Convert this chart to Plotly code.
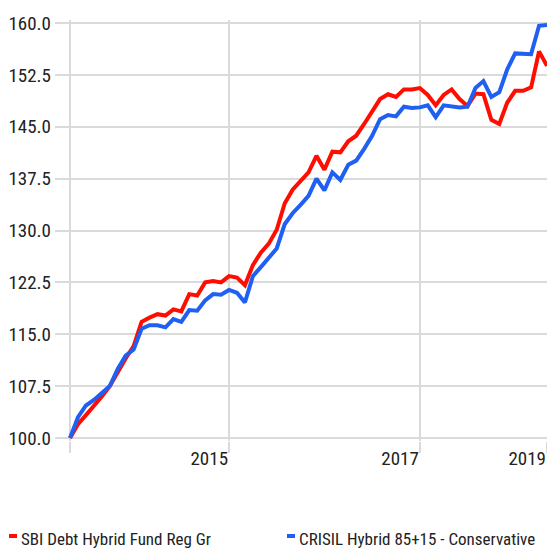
import plotly.graph_objects as go

# ---- data (monthly growth of 100, 61 points) ----
months = list(range(61))
fund_name = "SBI Debt Hybrid Fund Reg Gr"
bench_name = "CRISIL Hybrid 85+15 - Conservative"

fund = [100.0, 102.0, 103.3, 104.6, 106.0, 107.5, 109.6, 111.5, 113.3, 116.8,
        117.4, 117.9, 117.7, 118.6, 118.3, 120.8, 120.6, 122.5, 122.7, 122.5,
        123.4, 123.2, 122.1, 125.0, 126.8, 128.1, 130.1, 133.9, 135.9, 137.1,
        138.4, 140.8, 138.8, 141.4, 141.3, 142.9, 143.7, 145.4, 147.3, 149.0,
        149.7, 149.3, 150.4, 150.4, 150.6, 149.6, 148.1, 149.6, 150.4, 149.0,
        148.0, 149.8, 149.7, 146.0, 145.4, 148.5, 150.2, 150.2, 150.7, 155.9,
        153.8]

bench = [100.0, 103.0, 104.7, 105.5, 106.5, 107.5, 110.0, 111.9, 112.8, 115.8,
         116.3, 116.3, 116.0, 117.2, 116.8, 118.5, 118.4, 119.9, 120.8, 120.7,
         121.4, 121.0, 119.6, 123.4, 124.7, 126.0, 127.4, 130.9, 132.5, 133.7,
         135.0, 137.5, 135.8, 138.4, 137.3, 139.5, 140.1, 141.8, 143.7, 146.1,
         146.7, 146.5, 147.9, 147.7, 147.8, 148.1, 146.4, 148.1, 148.0, 147.8,
         147.9, 150.6, 151.6, 149.3, 150.0, 153.3, 155.6, 155.6, 155.5, 159.6,
         159.7]

x_tickvals = [0, 20, 44, 60]
x_ticktext = ["", "2015", "2017", "2019"]
y_tickvals = [100, 107.5, 115, 122.5, 130, 137.5, 145, 152.5, 160]

RED = "#ff0d00"
BLUE = "#1f5ff2"
GRID = "#dadada"
TXT = "#222222"
FONT = "Roboto Condensed, Liberation Sans Narrow, Arial Narrow, sans-serif"

W, H = 547, 550
ML, MR, MT, MB = 55, 0, 20, 109

fig = go.Figure()
fig.add_trace(go.Scatter(x=months, y=fund, mode="lines", name=fund_name,
                         line=dict(color=RED, width=4), showlegend=False))
fig.add_trace(go.Scatter(x=months, y=bench, mode="lines", name=bench_name,
                         line=dict(color=BLUE, width=4), showlegend=False))

pw = W - ML - MR
ph = H - MT - MB


def px_to_paper_x(px):
    return (px - ML) / pw


def px_to_paper_y(py):
    return (H - MB - py) / ph


# legend drawn as dashes + text
legend_items = [(fund_name, RED, 9, 19), (bench_name, BLUE, 287, 297)]
shapes = []
annotations = []
for name, col, dx, tx in legend_items:
    shapes.append(dict(type="line", xref="paper", yref="paper",
                       x0=px_to_paper_x(dx), x1=px_to_paper_x(dx + 8),
                       y0=px_to_paper_y(536), y1=px_to_paper_y(536),
                       line=dict(color=col, width=4)))
    annotations.append(dict(text=name, xref="paper", yref="paper",
                            x=px_to_paper_x(tx), y=px_to_paper_y(527),
                            xanchor="left", yanchor="top", showarrow=False,
                            font=dict(family=FONT, size=17, color=TXT)))

fig.update_layout(
    width=W, height=H,
    margin=dict(l=ML, r=MR, t=MT, b=MB, pad=0),
    paper_bgcolor="white", plot_bgcolor="white",
    font=dict(family=FONT, size=19, color=TXT),
    shapes=shapes, annotations=annotations,
    xaxis=dict(range=[-1.891, 60], tickmode="array", tickvals=x_tickvals,
               ticktext=x_ticktext, showgrid=True, gridcolor=GRID, gridwidth=2,
               ticks="outside", ticklen=11, tickwidth=2, tickcolor=GRID,
               ticklabelposition="outside left", zeroline=False, showline=False,
               automargin=False,
               tickfont=dict(family=FONT, size=19, color=TXT)),
    yaxis=dict(range=[99.566, 160.434], tickmode="array", tickvals=y_tickvals,
               tickformat=".1f", showgrid=True, gridcolor=GRID, gridwidth=2,
               ticks="", zeroline=False, showline=False, automargin=False,
               ticklabelstandoff=3,
               tickfont=dict(family=FONT, size=19, color=TXT)),
)

fig.write_html("out.html",
               config={"displayModeBar": False},
               post_script="document.body.style.margin='0';"
                           "document.body.style.overflow='hidden';")
